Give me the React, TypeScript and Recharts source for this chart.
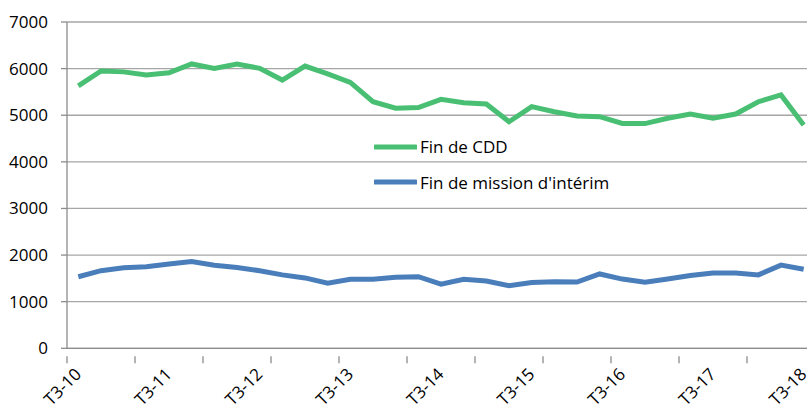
import React from 'react';
import { LineChart, Line, XAxis, YAxis, CartesianGrid, Legend } from 'recharts';

// quarters from T3-10 to T3-18
const quarters = [
  'T3-10', 'T4-10', 'T1-11', 'T2-11', 'T3-11', 'T4-11', 'T1-12', 'T2-12',
  'T3-12', 'T4-12', 'T1-13', 'T2-13', 'T3-13', 'T4-13', 'T1-14', 'T2-14',
  'T3-14', 'T4-14', 'T1-15', 'T2-15', 'T3-15', 'T4-15', 'T1-16', 'T2-16',
  'T3-16', 'T4-16', 'T1-17', 'T2-17', 'T3-17', 'T4-17', 'T1-18', 'T2-18',
  'T3-18'
];

const finCDD = [
  5630, 5950, 5930, 5865, 5910, 6100, 6005, 6100, 6005, 5755, 6055, 5885,
  5705, 5290, 5150, 5165, 5340, 5270, 5240, 4860, 5185, 5075, 4985, 4970,
  4825, 4820, 4935, 5025, 4935, 5025, 5290, 5435, 4790
];

const finInterim = [
  1535, 1665, 1730, 1750, 1810, 1860, 1780, 1735, 1665, 1575, 1510, 1395,
  1480, 1480, 1525, 1535, 1375, 1480, 1445, 1345, 1410, 1430, 1420, 1595,
  1485, 1420, 1485, 1560, 1615, 1615, 1575, 1785, 1695
];

const yTicks = [0, 1000, 2000, 3000, 4000, 5000, 6000, 7000];

const GREEN = '#48bf72';
const BLUE = '#4a7ebb';
const FONT = '"Open Sans", sans-serif';

const data = quarters.map((q, i) => ({
  idx: i + 0.5,
  name: q,
  cdd: finCDD[i],
  interim: finInterim[i]
}));

// tick marks every 3 quarters (band edges), labels every 4 quarters (band centres)
const markTicks = quarters.map((_, i) => i).filter(i => i % 3 === 0);
const labelTicks = quarters.map((_, i) => i).filter(i => i % 4 === 0).map(i => i + 0.5);
const xTicks = [...markTicks, ...labelTicks].sort((a, b) => a - b);

const XTick = (props: any) => {
  const { x, y, payload } = props;
  const v = payload.value;
  if (Number.isInteger(v)) {
    return <line x1={x} y1={y} x2={x} y2={y + 7} stroke="#8c8c8c" strokeWidth={1.3} />;
  }
  const label = quarters[Math.floor(v)];
  return (
    <text
      x={x + 4}
      y={y + 19}
      textAnchor="end"
      transform={`rotate(-45, ${x + 4}, ${y + 19})`}
      fontFamily={FONT}
      fontSize={17}
      fill="#000"
    >
      {label}
    </text>
  );
};

const LegendBox = () => (
  <div style={{ fontFamily: FONT, fontSize: 17, color: '#000' }}>
    {[
      { label: 'Fin de CDD', color: GREEN },
      { label: "Fin de mission d'intérim", color: BLUE }
    ].map(item => (
      <div key={item.label} style={{ display: 'flex', alignItems: 'center', height: 35.5 }}>
        <svg width={43} height={6} style={{ marginRight: 3 }}>
          <line x1={1.5} y1={3} x2={41.5} y2={3} stroke={item.color} strokeWidth={5} strokeLinecap="round" />
        </svg>
        <span>{item.label}</span>
      </div>
    ))}
  </div>
);

export default function App() {
  return (
    <div style={{ position: 'absolute', left: 0, top: 0, width: 807, height: 405, overflow: 'hidden', background: '#fff' }}>
      <LineChart
        width={830}
        height={405}
        data={data}
        margin={{ top: 22, right: 15, left: 0, bottom: 0 }}
      >
        <CartesianGrid vertical={false} stroke="#a6a6a6" strokeWidth={1.3} />
        <XAxis
          type="number"
          dataKey="idx"
          domain={[0, 33]}
          ticks={xTicks}
          interval={0}
          tick={<XTick />}
          tickLine={false}
          axisLine={{ stroke: '#8c8c8c', strokeWidth: 1.3 }}
          height={56.7}
        />
        <YAxis
          domain={[0, 7000]}
          ticks={yTicks}
          interval={0}
          width={67}
          tickSize={6}
          tickMargin={13}
          tickLine={{ stroke: '#8c8c8c', strokeWidth: 1.3 }}
          axisLine={{ stroke: '#8c8c8c', strokeWidth: 1.3 }}
          tick={{ fontFamily: FONT, fontSize: 17, fill: '#000' }}
        />
        <Legend
          layout="vertical"
          align="center"
          verticalAlign="middle"
          content={<LegendBox />}
          wrapperStyle={{ position: 'absolute', left: 374, top: 129, width: 260 }}
        />
        <Line
          type="linear"
          dataKey="cdd"
          name="Fin de CDD"
          stroke={GREEN}
          strokeWidth={5}
          dot={false}
          isAnimationActive={false}
        />
        <Line
          type="linear"
          dataKey="interim"
          name="Fin de mission d'intérim"
          stroke={BLUE}
          strokeWidth={5}
          dot={false}
          isAnimationActive={false}
        />
      </LineChart>
    </div>
  );
}
